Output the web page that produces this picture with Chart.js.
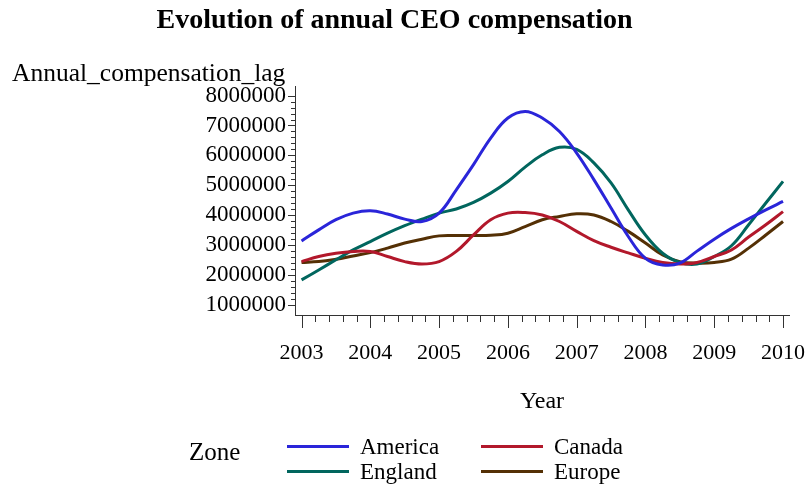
<!DOCTYPE html>
<html>
<head>
<meta charset="utf-8">
<script src="https://cdn.jsdelivr.net/npm/chart.js@4.4.0/dist/chart.umd.min.js"></script>
<style>
    body { margin: 0; background: #fff; }
    #wrap { position: relative; width: 809px; height: 490px; font-family: "Liberation Serif", "Times New Roman", serif; color: #000; }
    #chart { position: absolute; left: 0; top: 0; }
    .lbl { position: absolute; white-space: nowrap; line-height: 1; }
    .swatch { position: absolute; height: 3px; }
</style>
</head>
<body>
<div id="wrap">
    <canvas id="chart" width="809" height="490"></canvas>
    <div class="lbl" id="ytitle" style="left:12px; top:60px; font-size:25.5px;">Annual_compensation_lag</div>
    <div id="legend"></div>
</div>
<script>
const years = [2003, 2003.25, 2003.5, 2003.75, 2004, 2004.25, 2004.5, 2004.75, 2005, 2005.25, 2005.5, 2005.75,
    2006, 2006.25, 2006.5, 2006.75, 2007, 2007.25, 2007.5, 2007.75, 2008, 2008.25, 2008.5, 2008.75,
    2009, 2009.25, 2009.5, 2009.75, 2010];
const america = [3140000, 3510000, 3850000, 4070000, 4150000, 4040000, 3870000, 3790000, 4070000, 4850000, 5690000, 6580000,
    7250000, 7470000, 7250000, 6800000, 6080000, 5190000, 4240000, 3290000, 2560000, 2340000, 2400000, 2800000,
    3200000, 3560000, 3880000, 4180000, 4460000];
const canada = [2450000, 2620000, 2730000, 2790000, 2790000, 2620000, 2450000, 2370000, 2450000, 2790000, 3340000, 3850000,
    4070000, 4090000, 4010000, 3790000, 3460000, 3150000, 2930000, 2740000, 2560000, 2420000, 2370000, 2420000,
    2620000, 2840000, 3270000, 3680000, 4120000];
const england = [1840000, 2170000, 2510000, 2840000, 3120000, 3400000, 3650000, 3870000, 4070000, 4210000, 4430000, 4740000,
    5130000, 5610000, 6020000, 6270000, 6200000, 5750000, 5080000, 4180000, 3340000, 2730000, 2420000, 2370000,
    2620000, 2980000, 3680000, 4410000, 5130000];
const europe = [2420000, 2450000, 2530000, 2640000, 2750000, 2900000, 3070000, 3200000, 3310000, 3320000, 3320000, 3330000,
    3400000, 3620000, 3850000, 3960000, 4050000, 4010000, 3790000, 3460000, 3070000, 2670000, 2450000, 2400000,
    2420000, 2530000, 2900000, 3340000, 3790000];
const xTickLabels = [2003, 2004, 2005, 2006, 2007, 2008, 2009, 2010];
const yTickLabels = [1000000, 2000000, 3000000, 4000000, 5000000, 6000000, 7000000, 8000000];

const zones = [
    { name: "America", values: america, color: "#2A25D9" },
    { name: "Canada", values: canada, color: "#B2182B" },
    { name: "England", values: england, color: "#01665E" },
    { name: "Europe", values: europe, color: "#543005" },
];

const serif = "'Liberation Serif', 'Times New Roman', serif";
const axisColor = "#333";

// Haupt- und Nebenstriche an den Achsen
const tickMarks = {
    id: "tickMarks",
    afterDraw(chart) {
        const { ctx, scales: { x, y } } = chart;
        ctx.save();
        ctx.strokeStyle = axisColor;
        ctx.lineWidth = 1;
        ctx.beginPath();
        for (let i = 2003 * 5; i <= 2010 * 5; i++) {
            const px = Math.round(x.getPixelForValue(i / 5)) + 0.5;
            const len = i % 5 === 0 ? 13 : 7;
            ctx.moveTo(px, x.top);
            ctx.lineTo(px, x.top + len);
        }
        for (let i = 5; i <= 40; i++) {
            const py = Math.round(y.getPixelForValue(i * 200000)) + 0.5;
            const len = i % 5 === 0 ? 7 : 4;
            ctx.moveTo(y.right, py);
            ctx.lineTo(y.right - len, py);
        }
        ctx.stroke();
        ctx.restore();
    }
};

const ctx = document.getElementById("chart").getContext("2d");
const chart = new Chart(ctx, {
    type: "line",
    data: {
        datasets: zones.map(z => ({
            label: z.name,
            data: years.map((t, i) => ({ x: t, y: z.values[i] })),
            borderColor: z.color,
            borderWidth: 3,
            pointRadius: 0,
            tension: 0.4,
            fill: false,
        })),
    },
    options: {
        responsive: false,
        animation: false,
        layout: { padding: { left: 0, right: 20, top: 0, bottom: 0 } },
        plugins: {
            legend: { display: false },
            tooltip: { enabled: false },
            title: {
                display: true,
                text: "Evolution of annual CEO compensation",
                color: "#000",
                font: { family: serif, size: 28, weight: "bold" },
                padding: { top: 4, bottom: 49 },
            },
        },
        scales: {
            x: {
                type: "linear",
                min: 2002.905,
                max: 2010.087,
                afterFit: s => { s.height = 175; s.paddingLeft = 0; s.paddingRight = 0; },
                afterBuildTicks: s => { s.ticks = xTickLabels.map(v => ({ value: v })); },
                grid: { display: false, drawTicks: false },
                border: { display: true, color: axisColor, width: 1 },
                ticks: {
                    color: "#000",
                    padding: 25,
                    maxRotation: 0,
                    font: { family: serif, size: 22 },
                    callback: v => String(v),
                },
                title: {
                    display: true,
                    text: "Year",
                    color: "#000",
                    font: { family: serif, size: 24 },
                    padding: { top: 0, bottom: 74 },
                },
            },
            y: {
                type: "linear",
                min: 665000,
                max: 8300000,
                afterFit: s => { s.width = 295; s.paddingTop = 0; s.paddingBottom = 0; },
                afterBuildTicks: s => { s.ticks = yTickLabels.map(v => ({ value: v })); },
                grid: { display: false, drawTicks: false },
                border: { display: true, color: axisColor, width: 1 },
                ticks: {
                    color: "#000",
                    padding: 9,
                    font: { family: serif, size: 23 },
                    callback: v => String(v),
                },
            },
        },
    },
    plugins: [tickMarks],
});

// Legende im Stil der Vorlage
const legend = document.getElementById("legend");
legend.innerHTML = `<div class="lbl" style="left:189px; top:439px; font-size:25px;">Zone</div>`;
zones.forEach((z, i) => {
    const col = i % 2, row = Math.floor(i / 2);
    const lineX = col === 0 ? 287 : 481;
    const lineY = row === 0 ? 446 : 471;
    legend.innerHTML += `
        <div class="swatch" style="left:${lineX}px; top:${lineY - 1}px; width:62px; background:${z.color};"></div>
        <div class="lbl" style="left:${lineX + 73}px; top:${lineY - 11}px; font-size:23px;">${z.name}</div>
    `;
});
</script>
</body>
</html>
